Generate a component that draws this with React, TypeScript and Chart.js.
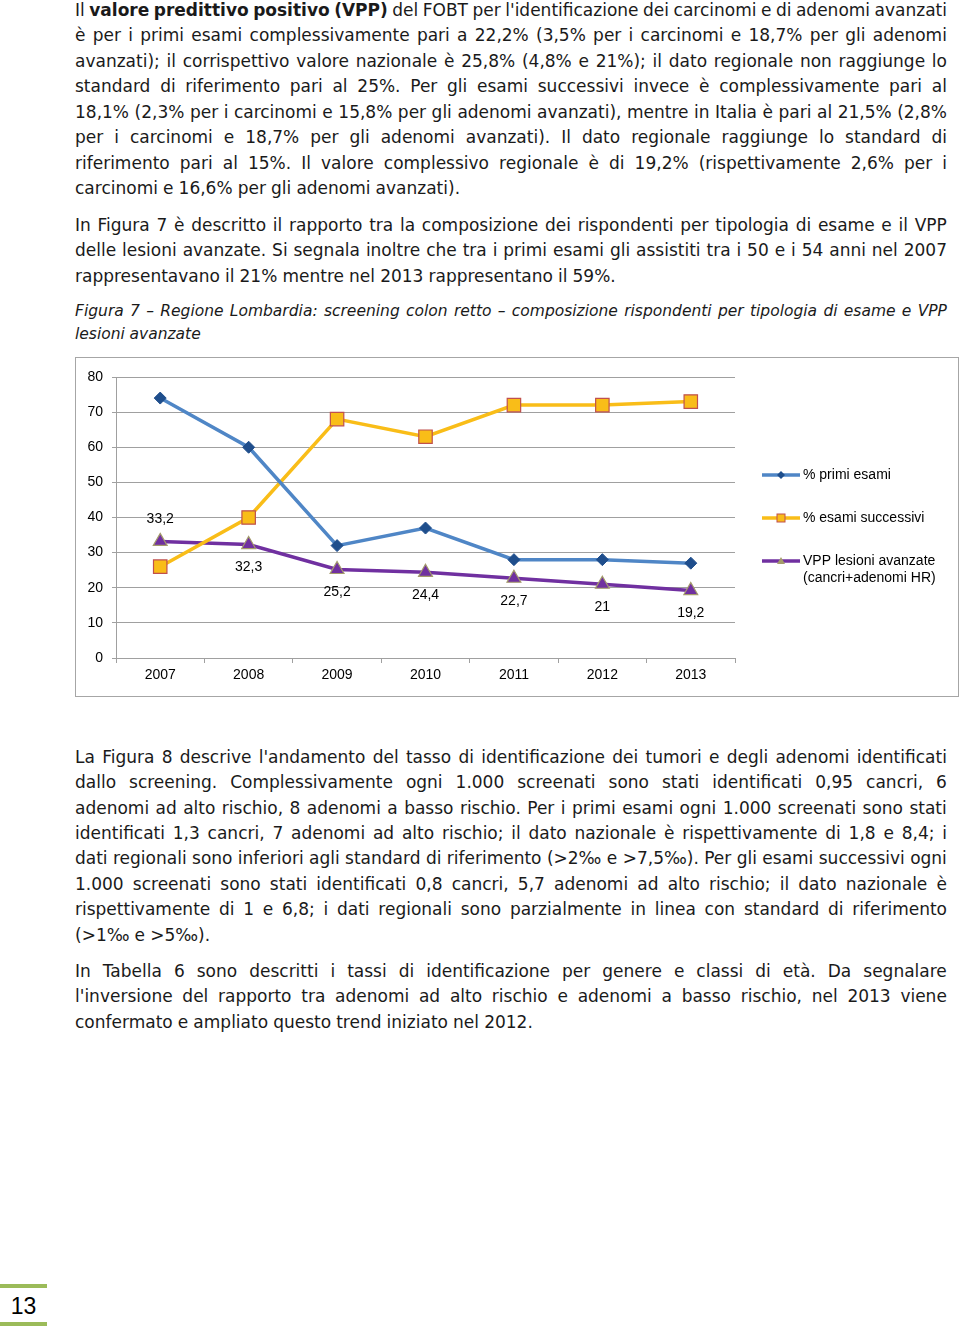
import React, { useEffect, useRef } from "react";
import { Chart, registerables } from "chart.js";

Chart.register(...registerables);

// ---- chart data ----
const years = ["2007", "2008", "2009", "2010", "2011", "2012", "2013"];
const primiEsami = [74, 60, 32, 37, 28, 28, 27];
const esamiSuccessivi = [26, 40, 68, 63, 72, 72, 73];
const vppLesioni = [33.2, 32.3, 25.2, 24.4, 22.7, 21, 19.2];
const yTickValues = [0, 10, 20, 30, 40, 50, 60, 70, 80];
const seriesNames = ["% primi esami", "% esami successivi", "VPP lesioni avanzate"];
const seriesNameExtra = "(cancri+adenomi HR)";

const BLUE = "#4f86c6";
const BLUE_DARK = "#1f4e8c";
const ORANGE = "#f9bd18";
const ORANGE_EDGE = "#c0504d";
const PURPLE = "#7030a0";
const PURPLE_EDGE = "#a49b6b";
const FONT = "'Liberation Sans', Arial, sans-serif";

// ---- page text ----
const p1 = [
  "Il *valore *predittivo *positivo *(VPP) del FOBT per l'identificazione dei carcinomi e di adenomi avanzati",
  "è per i primi esami complessivamente pari a 22,2% (3,5% per i carcinomi e 18,7% per gli adenomi",
  "avanzati); il corrispettivo valore nazionale è 25,8% (4,8% e 21%); il dato regionale non raggiunge lo",
  "standard di riferimento pari al 25%. Per gli esami successivi invece è complessivamente pari al",
  "18,1% (2,3% per i carcinomi e 15,8% per gli adenomi avanzati), mentre in Italia è pari al 21,5% (2,8%",
  "per i carcinomi e 18,7% per gli adenomi avanzati). Il dato regionale raggiunge lo standard di",
  "riferimento pari al 15%. Il valore complessivo regionale è di 19,2% (rispettivamente 2,6% per i",
  "carcinomi e 16,6% per gli adenomi avanzati).",
];
const p1Y = [10, 35, 61, 86, 112, 137, 163, 188];
const p2 = [
  "In Figura 7 è descritto il rapporto tra la composizione dei rispondenti per tipologia di esame e il VPP",
  "delle lesioni avanzate. Si segnala inoltre che tra i primi esami gli assistiti tra i 50 e i 54 anni nel 2007",
  "rappresentavano il 21% mentre nel 2013 rappresentano il 59%.",
];
const p2Y = [225, 250, 276];
const caption = [
  "Figura 7 – Regione Lombardia:  screening colon retto – composizione rispondenti per tipologia di esame e VPP",
  "lesioni avanzate",
];
const captionY = [311, 334];
const p3 = [
  "La Figura 8 descrive l'andamento del tasso di identificazione dei tumori e degli adenomi identificati",
  "dallo screening. Complessivamente ogni 1.000 screenati sono stati identificati 0,95 cancri, 6",
  "adenomi ad alto rischio, 8 adenomi a basso rischio. Per i primi esami ogni 1.000 screenati sono stati",
  "identificati 1,3 cancri, 7 adenomi ad alto rischio; il dato nazionale è rispettivamente di 1,8 e 8,4; i",
  "dati regionali sono inferiori agli standard di riferimento (>2‰ e >7,5‰). Per gli esami successivi ogni",
  "1.000 screenati sono stati identificati 0,8 cancri, 5,7 adenomi ad alto rischio; il dato nazionale è",
  "rispettivamente di 1 e 6,8; i dati regionali sono parzialmente in linea con standard di riferimento",
  "(>1‰ e >5‰).",
];
const p3Y = [757, 782, 808, 833, 858, 884, 909, 935];
const p4 = [
  "In Tabella 6 sono descritti i tassi di identificazione per genere e classi di età. Da segnalare",
  "l'inversione del rapporto tra adenomi ad alto rischio e adenomi a basso rischio, nel 2013 viene",
  "confermato e ampliato questo trend iniziato nel 2012.",
];
const p4Y = [971, 996, 1022];

const TEXT_FONT = "'DejaVu Sans', sans-serif";
const TEXT_SIZE = 17;

function Line({ text, y, justify, italic, size }: { text: string; y: number; justify: boolean; italic?: boolean; size?: number }) {
  const words = text.split(" ").filter((w) => w.length > 0);
  const style: React.CSSProperties = {
    position: "absolute",
    left: 75,
    width: justify ? 872 : 880,
    top: y - 12,
    height: 24,
    lineHeight: "24px",
    fontFamily: TEXT_FONT,
    fontSize: size || TEXT_SIZE,
    fontStyle: italic ? "italic" : "normal",
    color: "#1a1a1a",
    whiteSpace: "nowrap",
    display: "flex",
    justifyContent: justify ? "space-between" : "flex-start",
    gap: justify ? 0 : "0.3em",
  };
  return (
    <div style={style}>
      {words.map((w, i) => {
        const bold = w.startsWith("*");
        return (
          <span key={i} style={{ fontWeight: bold ? "bold" : "normal", flexShrink: 0 }}>
            {bold ? w.slice(1) : w}
          </span>
        );
      })}
    </div>
  );
}

function Para({ lines, ys, italic, size }: { lines: string[]; ys: number[]; italic?: boolean; size?: number }) {
  return (
    <>
      {lines.map((l, i) => (
        <Line key={i} text={l} y={ys[i]} justify={i < lines.length - 1} italic={italic} size={size} />
      ))}
    </>
  );
}

const labelPlugin = {
  id: "vppLabels",
  afterDatasetsDraw(chart: any) {
    const meta = chart.getDatasetMeta(2);
    const ctx = chart.ctx;
    ctx.save();
    ctx.font = `14px ${FONT}`;
    ctx.fillStyle = "#000";
    ctx.textAlign = "center";
    ctx.textBaseline = "middle";
    meta.data.forEach((el: any, i: number) => {
      const v = vppLesioni[i];
      const txt = String(v).replace(".", ",");
      const dy = i === 0 ? -22 : 23;
      ctx.fillText(txt, el.x, el.y + dy);
    });
    ctx.restore();
  },
};

const legendPlugin = {
  id: "sideLegend",
  afterDraw(chart: any) {
    const ctx = chart.ctx;
    const x0 = 686;
    const x1 = 724;
    const xm = (x0 + x1) / 2;
    const ys = [117, 160, 203];
    const colors = [BLUE, ORANGE, PURPLE];
    ctx.save();
    ys.forEach((y, i) => {
      ctx.strokeStyle = colors[i];
      ctx.lineWidth = 3.5;
      ctx.beginPath();
      ctx.moveTo(x0, y);
      ctx.lineTo(x1, y);
      ctx.stroke();
      ctx.lineWidth = 1;
      if (i === 0) {
        ctx.fillStyle = BLUE_DARK;
        ctx.beginPath();
        ctx.moveTo(xm, y - 4);
        ctx.lineTo(xm + 4, y);
        ctx.lineTo(xm, y + 4);
        ctx.lineTo(xm - 4, y);
        ctx.closePath();
        ctx.fill();
      } else if (i === 1) {
        ctx.fillStyle = ORANGE;
        ctx.strokeStyle = ORANGE_EDGE;
        ctx.fillRect(xm - 4, y - 4, 8, 8);
        ctx.strokeRect(xm - 4, y - 4, 8, 8);
      } else {
        ctx.fillStyle = PURPLE_EDGE;
        ctx.beginPath();
        ctx.moveTo(xm, y - 4);
        ctx.lineTo(xm + 4, y + 3);
        ctx.lineTo(xm - 4, y + 3);
        ctx.closePath();
        ctx.fill();
      }
      ctx.fillStyle = "#000";
      ctx.font = `14px ${FONT}`;
      ctx.textAlign = "left";
      ctx.textBaseline = "middle";
      ctx.fillText(seriesNames[i], x1 + 3, y);
      if (i === 2) ctx.fillText(seriesNameExtra, x1 + 3, y + 17);
    });
    ctx.restore();
  },
};

function ChartBox() {
  const ref = useRef<HTMLCanvasElement | null>(null);
  useEffect(() => {
    if (!ref.current) return;
    const chart = new Chart(ref.current, {
      type: "line",
      data: {
        labels: years,
        datasets: [
          {
            label: seriesNames[0],
            data: primiEsami,
            borderColor: BLUE,
            backgroundColor: BLUE_DARK,
            borderWidth: 3.5,
            pointStyle: "rectRot",
            pointRadius: 6,
            pointBorderColor: BLUE_DARK,
            pointBackgroundColor: BLUE_DARK,
            pointBorderWidth: 1,
            tension: 0,
          },
          {
            label: seriesNames[1],
            data: esamiSuccessivi,
            borderColor: ORANGE,
            backgroundColor: ORANGE,
            borderWidth: 3.5,
            pointStyle: "rect",
            pointRadius: 9.5,
            pointBorderColor: ORANGE_EDGE,
            pointBackgroundColor: ORANGE,
            pointBorderWidth: 1.2,
            tension: 0,
          },
          {
            label: seriesNames[2] + " " + seriesNameExtra,
            data: vppLesioni,
            borderColor: PURPLE,
            backgroundColor: PURPLE,
            borderWidth: 3.5,
            pointStyle: "triangle",
            pointRadius: 8,
            pointBorderColor: PURPLE_EDGE,
            pointBackgroundColor: PURPLE,
            pointBorderWidth: 1.2,
            tension: 0,
          },
        ],
      },
      options: {
        responsive: false,
        animation: false,
        layout: { padding: { left: 0, right: 223, top: 19, bottom: 0 } },
        plugins: {
          legend: { display: false },
          tooltip: { enabled: false },
        },
        scales: {
          x: {
            offset: true,
            grid: {
              offset: true,
              drawOnChartArea: false,
              drawTicks: true,
              tickLength: 5,
              color: "#a0a0a0",
            },
            border: { color: "#a0a0a0", width: 1 },
            ticks: { color: "#000", font: { family: FONT, size: 14 }, padding: 4 },
            afterFit: (s: any) => {
              s.height = 38;
            },
          },
          y: {
            min: 0,
            max: 80,
            afterBuildTicks: (s: any) => {
              s.ticks = yTickValues.map((v) => ({ value: v }));
            },
            grid: { color: "#a0a0a0", lineWidth: 1, tickLength: 4 },
            border: { color: "#a0a0a0", width: 1 },
            ticks: { color: "#000", font: { family: FONT, size: 14 }, padding: 9 },
            afterFit: (s: any) => {
              s.width = 40;
            },
          },
        },
      },
      plugins: [labelPlugin, legendPlugin],
    });
    return () => chart.destroy();
  }, []);
  return (
    <div
      style={{
        position: "absolute",
        left: 75,
        top: 357,
        width: 884,
        height: 340,
        border: "1px solid #a6a6a6",
        boxSizing: "border-box",
        background: "#fff",
      }}
    >
      <canvas ref={ref} width={882} height={338} style={{ display: "block", width: 882, height: 338 }} />
    </div>
  );
}

export default function App() {
  return (
    <div style={{ position: "absolute", left: 0, top: 0, width: 960, height: 1329, background: "#fff", overflow: "hidden" }}>
      <Para lines={p1} ys={p1Y} />
      <Para lines={p2} ys={p2Y} />
      <Para lines={caption} ys={captionY} italic size={15.5} />
      <ChartBox />
      <Para lines={p3} ys={p3Y} />
      <Para lines={p4} ys={p4Y} />
      <div style={{ position: "absolute", left: 0, top: 1284, width: 47, height: 4, background: "#9bbb59" }} />
      <div
        style={{
          position: "absolute",
          left: 0,
          width: 47,
          top: 1292,
          height: 28,
          lineHeight: "28px",
          textAlign: "center",
          fontFamily: "'Liberation Sans', Arial, sans-serif",
          fontSize: 23,
          color: "#000",
        }}
      >
        13
      </div>
      <div style={{ position: "absolute", left: 0, top: 1322, width: 47, height: 4, background: "#9bbb59" }} />
    </div>
  );
}
